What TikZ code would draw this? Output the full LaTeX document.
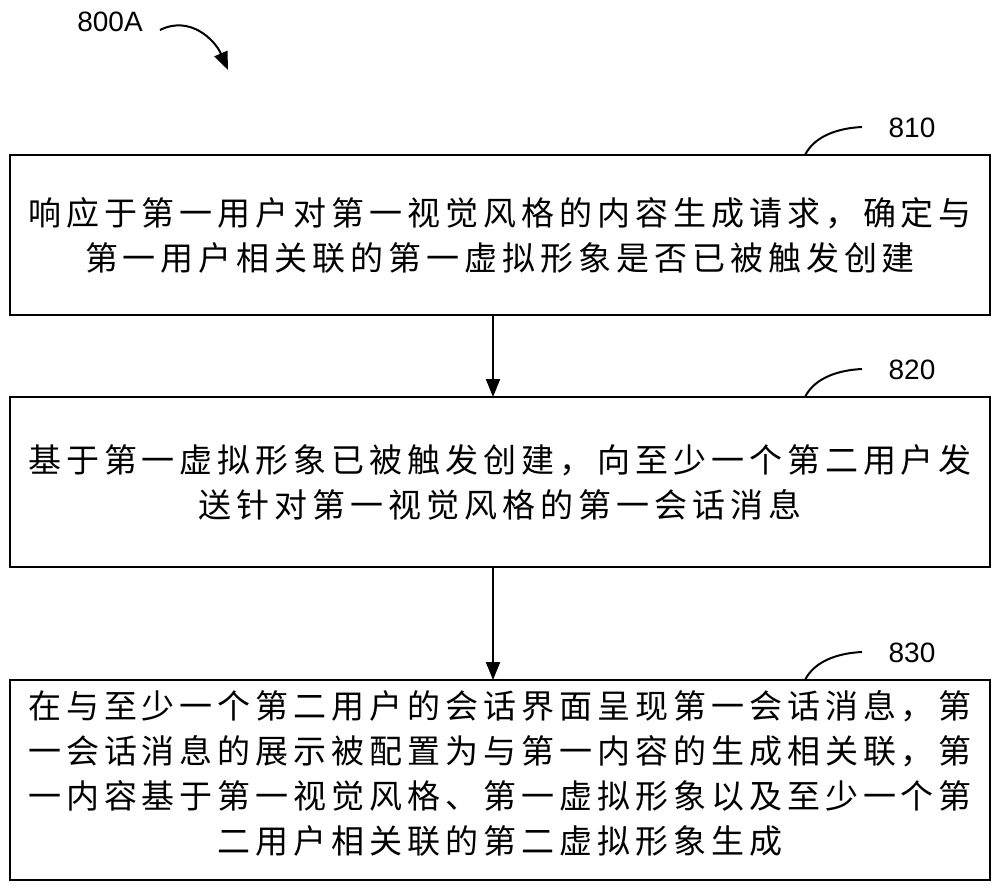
\documentclass[tikz,border=0pt]{standalone}
\usepackage{fontspec}
\setmainfont{Liberation Sans}
\newfontfamily\cjk[LetterSpace=15]{Noto Sans CJK SC}
\usetikzlibrary{arrows.meta}
\begin{document}
\begin{tikzpicture}[x=1pt,y=-1pt,
  stepbox/.style={draw,line width=2pt},
  txt/.style={font=\cjk\fontsize{33}{45}\selectfont,align=center,inner sep=0},
  lbl/.style={font=\fontsize{28}{30}\selectfont,inner sep=0},
  arr/.style={-{Triangle[length=18pt,width=14pt]},line width=2pt}]
\useasboundingbox (0,0) rectangle (1000,887);
\node[lbl] (l800) at (110,22) {800A};
\coordinate (a0) at (160,30);
\coordinate (a1) at (228,70);
\draw[arr] (a0) .. controls (190,15) and (215,40) .. (a1);
\draw[stepbox] (10,155) rectangle (990,315);
\draw[stepbox] (10,397) rectangle (990,567);
\draw[stepbox] (10,680) rectangle (990,880);
\node[txt] (t1) at (500,235) {响应于第一用户对第一视觉风格的内容生成请求，确定与\\第一用户相关联的第一虚拟形象是否已被触发创建};
\node[txt] (t2) at (500,482) {基于第一虚拟形象已被触发创建，向至少一个第二用户发\\送针对第一视觉风格的第一会话消息};
\node[txt] (t3) at (500,773) {在与至少一个第二用户的会话界面呈现第一会话消息，第\\一会话消息的展示被配置为与第一内容的生成相关联，第\\一内容基于第一视觉风格、第一虚拟形象以及至少一个第\\二用户相关联的第二虚拟形象生成};
\coordinate (b1) at (493,315); \coordinate (c1) at (493,397);
\coordinate (b2) at (493,567); \coordinate (c2) at (493,680);
\draw[arr] (b1) -- (c1);
\draw[arr] (b2) -- (c2);
\foreach \y/\n in {155/810,397/820,680/830}{
  \node[lbl] (n\n) at (912,\y-27) {\n};
  \draw[line width=2pt] (805,\y) .. controls (815,\y-20) and (840,\y-27) .. (862,\y-28);
}
\end{tikzpicture}
\end{document}
